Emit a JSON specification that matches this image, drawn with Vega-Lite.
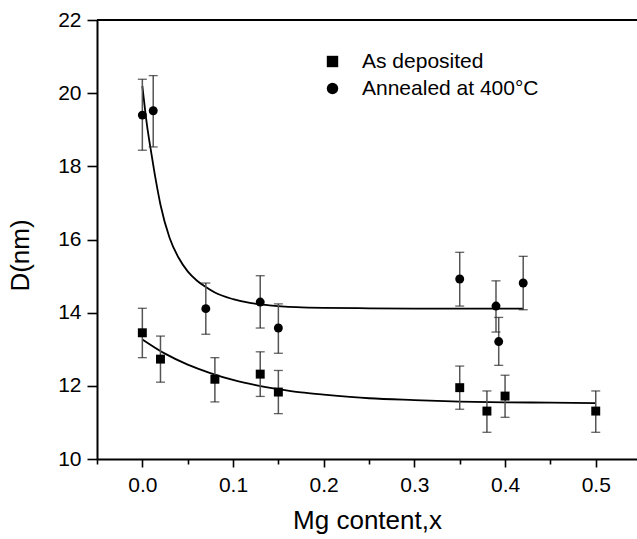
{
  "$schema": "https://vega.github.io/schema/vega-lite/v6.json",
  "width": 540,
  "height": 439,
  "autosize": {"type": "none"},
  "padding": {"left": 97, "top": 20, "right": 0, "bottom": 80},
  "background": "white",
  "config": {
    "view": {"stroke": null},
    "font": "Liberation Sans",
    "axis": {
      "grid": false,
      "domainColor": "black",
      "domainWidth": 2,
      "tickColor": "black",
      "tickWidth": 1.6,
      "labelColor": "black",
      "labelFont": "Liberation Sans",
      "labelFontSize": 21,
      "titleFont": "Liberation Sans",
      "titleFontSize": 26,
      "titleFontWeight": "normal",
      "titleColor": "black",
      "labelOverlap": false,
      "labelFlush": false
    },
    "legend": {
      "padding": 0,
      "labelFont": "Liberation Sans",
      "labelFontSize": 21,
      "labelColor": "black",
      "labelLimit": 400,
      "symbolSize": 130,
      "symbolFillColor": "black",
      "symbolStrokeWidth": 0,
      "labelOffset": 19,
      "rowPadding": 5
    }
  },
  "datasets": {
    "pts": [
      {"s": "Annealed at 400°C", "x": 0.0, "y": 19.40, "lo": 18.44, "hi": 20.38},
      {"s": "Annealed at 400°C", "x": 0.012, "y": 19.52, "lo": 18.53, "hi": 20.48},
      {"s": "Annealed at 400°C", "x": 0.07, "y": 14.11, "lo": 13.41, "hi": 14.81},
      {"s": "Annealed at 400°C", "x": 0.13, "y": 14.29, "lo": 13.58, "hi": 15.01},
      {"s": "Annealed at 400°C", "x": 0.15, "y": 13.58, "lo": 12.89, "hi": 14.24},
      {"s": "Annealed at 400°C", "x": 0.35, "y": 14.92, "lo": 14.18, "hi": 15.65},
      {"s": "Annealed at 400°C", "x": 0.39, "y": 14.18, "lo": 13.47, "hi": 14.87},
      {"s": "Annealed at 400°C", "x": 0.393, "y": 13.21, "lo": 12.56, "hi": 13.87},
      {"s": "Annealed at 400°C", "x": 0.42, "y": 14.81, "lo": 14.08, "hi": 15.54},
      {"s": "As deposited", "x": 0.0, "y": 13.45, "lo": 12.77, "hi": 14.12},
      {"s": "As deposited", "x": 0.02, "y": 12.73, "lo": 12.10, "hi": 13.36},
      {"s": "As deposited", "x": 0.08, "y": 12.18, "lo": 11.56, "hi": 12.77},
      {"s": "As deposited", "x": 0.13, "y": 12.32, "lo": 11.71, "hi": 12.93},
      {"s": "As deposited", "x": 0.15, "y": 11.83, "lo": 11.24, "hi": 12.42},
      {"s": "As deposited", "x": 0.35, "y": 11.95, "lo": 11.36, "hi": 12.54},
      {"s": "As deposited", "x": 0.38, "y": 11.31, "lo": 10.73, "hi": 11.86},
      {"s": "As deposited", "x": 0.40, "y": 11.72, "lo": 11.14, "hi": 12.29},
      {"s": "As deposited", "x": 0.50, "y": 11.31, "lo": 10.73, "hi": 11.86}
    ],
    "fit": [
      {"s": "a", "x": 0.0, "y": 20.2},
      {"s": "a", "x": 0.005, "y": 19.15},
      {"s": "a", "x": 0.01, "y": 18.35},
      {"s": "a", "x": 0.015, "y": 17.6},
      {"s": "a", "x": 0.02, "y": 16.95},
      {"s": "a", "x": 0.03, "y": 16.05},
      {"s": "a", "x": 0.04, "y": 15.5},
      {"s": "a", "x": 0.05, "y": 15.13},
      {"s": "a", "x": 0.06, "y": 14.88},
      {"s": "a", "x": 0.07, "y": 14.7},
      {"s": "a", "x": 0.08, "y": 14.55},
      {"s": "a", "x": 0.1, "y": 14.37},
      {"s": "a", "x": 0.12, "y": 14.26},
      {"s": "a", "x": 0.14, "y": 14.2},
      {"s": "a", "x": 0.17, "y": 14.15},
      {"s": "a", "x": 0.2, "y": 14.13},
      {"s": "a", "x": 0.25, "y": 14.12},
      {"s": "a", "x": 0.3, "y": 14.11},
      {"s": "a", "x": 0.35, "y": 14.11},
      {"s": "a", "x": 0.42, "y": 14.11},
      {"s": "b", "x": 0.0, "y": 13.27},
      {"s": "b", "x": 0.025, "y": 12.88},
      {"s": "b", "x": 0.05, "y": 12.58},
      {"s": "b", "x": 0.075, "y": 12.35},
      {"s": "b", "x": 0.1, "y": 12.16},
      {"s": "b", "x": 0.125, "y": 12.02},
      {"s": "b", "x": 0.15, "y": 11.91},
      {"s": "b", "x": 0.175, "y": 11.82},
      {"s": "b", "x": 0.2, "y": 11.76},
      {"s": "b", "x": 0.25, "y": 11.66},
      {"s": "b", "x": 0.3, "y": 11.61},
      {"s": "b", "x": 0.35, "y": 11.57},
      {"s": "b", "x": 0.4, "y": 11.55},
      {"s": "b", "x": 0.45, "y": 11.54},
      {"s": "b", "x": 0.5, "y": 11.53}
    ],
    "frame": [
      {"y": 22}
    ]
  },
  "layer": [
    {
      "data": {"name": "fit"},
      "mark": {"type": "line", "color": "black", "strokeWidth": 1.8, "interpolate": "monotone"},
      "encoding": {
        "x": {
          "field": "x", "type": "quantitative",
          "scale": {"domain": [-0.05, 0.5455], "nice": false, "zero": false},
          "axis": {
            "orient": "bottom",
            "title": "Mg content,x",
            "values": [-0.05, 0, 0.05, 0.1, 0.15, 0.2, 0.25, 0.3, 0.35, 0.4, 0.45, 0.5],
            "labelExpr": "abs(datum.value*10 - round(datum.value*10)) < 0.001 && datum.value >= 0 ? format(datum.value, '.1f') : ''",
            "tickSize": {"condition": {"test": "abs(datum.value*10 - round(datum.value*10)) < 0.001", "value": 8}, "value": 5},
            "labelPadding": 7,
            "titlePadding": 12
          }
        },
        "y": {
          "field": "y", "type": "quantitative",
          "scale": {"domain": [10, 22], "nice": false, "zero": false},
          "axis": {
            "title": "D(nm)",
            "values": [10, 11, 12, 13, 14, 15, 16, 17, 18, 19, 20, 21, 22],
            "labelExpr": "datum.value % 2 == 0 ? datum.label : ''",
            "tickSize": {"condition": {"test": "datum.value % 2 == 0", "value": 10}, "value": 5},
            "labelPadding": 6,
            "titlePadding": 24,
            "titleY": 235
          }
        },
        "detail": {"field": "s"}
      }
    },
    {
      "data": {"name": "frame"},
      "mark": {"type": "rule", "color": "black", "strokeWidth": 2},
      "encoding": {
        "y": {"field": "y", "type": "quantitative"}
      }
    },
    {
      "data": {"name": "pts"},
      "mark": {"type": "rule", "color": "#555555", "strokeWidth": 1.5},
      "encoding": {
        "x": {"field": "x", "type": "quantitative"},
        "y": {"field": "lo", "type": "quantitative"},
        "y2": {"field": "hi"}
      }
    },
    {
      "data": {"name": "pts"},
      "mark": {"type": "tick", "orient": "horizontal", "color": "#222222", "size": 9, "thickness": 1.3},
      "encoding": {
        "x": {"field": "x", "type": "quantitative"},
        "y": {"field": "lo", "type": "quantitative"}
      }
    },
    {
      "data": {"name": "pts"},
      "mark": {"type": "tick", "orient": "horizontal", "color": "#222222", "size": 9, "thickness": 1.3},
      "encoding": {
        "x": {"field": "x", "type": "quantitative"},
        "y": {"field": "hi", "type": "quantitative"}
      }
    },
    {
      "data": {"name": "pts"},
      "mark": {"type": "point", "filled": true, "color": "black", "opacity": 1, "size": 80},
      "encoding": {
        "x": {"field": "x", "type": "quantitative"},
        "y": {"field": "y", "type": "quantitative"},
        "shape": {
          "field": "s", "type": "nominal",
          "scale": {"domain": ["As deposited", "Annealed at 400°C"], "range": ["square", "circle"]},
          "legend": {"title": null, "orient": "none", "legendX": 225, "legendY": 31}
        }
      }
    }
  ]
}
